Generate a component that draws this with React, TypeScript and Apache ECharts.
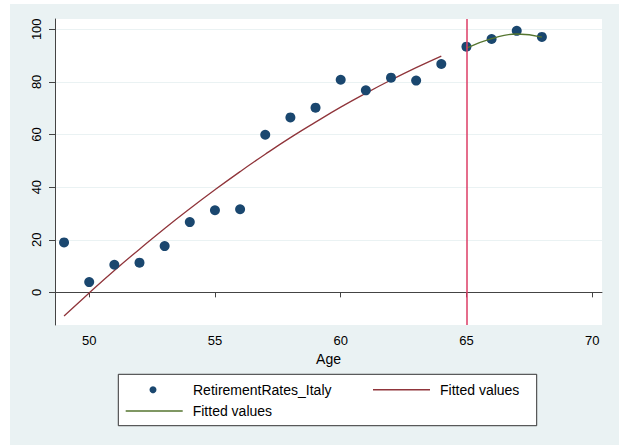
import React, { useEffect, useRef } from "react";
import * as echarts from "echarts";

const ages = [49, 50, 51, 52, 53, 54, 55, 56, 57, 58, 59, 60, 61, 62, 63, 64, 65, 66, 67, 68];
const rates = [19.0, 3.9, 10.5, 11.3, 17.6, 26.7, 31.2, 31.6, 59.9, 66.5, 70.2, 80.8, 76.8, 81.6, 80.5, 86.8, 93.4, 96.3, 99.4, 97.1];

const fit1Ages = [49, 50, 51, 52, 53, 54, 55, 56, 57, 58, 59, 60, 61, 62, 63, 64];
const fit1Values = [-9.0, -0.2, 8.3, 16.4, 24.3, 31.8, 39.0, 45.9, 52.5, 58.8, 64.7, 70.4, 75.7, 80.7, 85.4, 89.8];

const fit2Ages = [65, 66, 67, 68];
const fit2Values = [92.8, 96.4, 98.2, 97.0];

const xTicks = [50, 55, 60, 65, 70];
const yTicks = [0, 20, 40, 60, 80, 100];
const cutoffAge = 65;

const FONT = "'Liberation Sans', Arial, Helvetica, sans-serif";

export default function App() {
  const ref = useRef<HTMLDivElement>(null);

  useEffect(() => {
    if (!ref.current) return;
    const chart = echarts.init(ref.current, undefined, { renderer: "svg" });
    const pair = (xs: number[], ys: number[]) => xs.map((x, i) => [x, ys[i]]);

    const legendText = (pad: number) => ({
      fontFamily: FONT,
      fontSize: 14,
      color: "#000",
      lineHeight: 14,
      padding: [0, 0, 0, pad],
    });

    chart.setOption({
      animation: false,
      backgroundColor: "#eaf2f3",
      textStyle: { fontFamily: FONT },
      grid: {
        left: 45,
        top: 15,
        right: 17,
        bottom: 120,
        show: true,
        backgroundColor: "#ffffff",
        borderWidth: 0,
      },
      xAxis: {
        type: "value",
        min: 48.64,
        max: 70.39,
        name: "Age",
        nameLocation: "middle",
        nameGap: 27,
        nameTextStyle: { fontFamily: FONT, fontSize: 14, color: "#000" },
        axisLine: { show: true, lineStyle: { color: "#444", width: 1 } },
        axisTick: { show: true, length: 5, customValues: xTicks, lineStyle: { color: "#444" } },
        axisLabel: { customValues: xTicks, fontFamily: FONT, fontSize: 13, color: "#000", margin: 9 },
        splitLine: { show: false },
      },
      yAxis: {
        type: "value",
        min: -12.4,
        max: 103.9,
        axisLine: { show: true, lineStyle: { color: "#444", width: 1 } },
        axisTick: { show: true, length: 6, customValues: yTicks, lineStyle: { color: "#444" } },
        axisLabel: { customValues: yTicks, rotate: 90, fontFamily: FONT, fontSize: 13, color: "#000", margin: 12 },
        splitLine: { show: true, lineStyle: { color: "#eaf2f3", width: 1 } },
      },
      legend: [
        {
          data: [{ name: "RetirementRates_Italy", icon: "circle" }],
          left: 139.5,
          top: 378.7,
          padding: 0,
          itemWidth: 7,
          itemHeight: 7,
          itemStyle: { opacity: 1 },
          textStyle: legendText(31.5),
          selectedMode: false,
        },
        {
          data: [{ name: "Fitted values", icon: "rect" }],
          left: 363,
          top: 378.7,
          padding: 0,
          itemWidth: 57,
          itemHeight: 1.5,
          textStyle: legendText(5),
          selectedMode: false,
        },
        {
          data: [{ name: "Fitted values (65+)", icon: "rect" }],
          left: 115.7,
          top: 400,
          padding: 0,
          itemWidth: 57,
          itemHeight: 1.5,
          textStyle: legendText(5),
          formatter: () => "Fitted values",
          selectedMode: false,
        },
      ],
      graphic: [
        {
          type: "rect",
          shape: { x: 108.3, y: 370.3, width: 418.4, height: 51.4 },
          style: { fill: "#ffffff", stroke: "#333", lineWidth: 1 },
          z: 1,
          silent: true,
        },
      ],
      series: [
        {
          name: "Fitted values",
          type: "line",
          data: pair(fit1Ages, fit1Values),
          smooth: true,
          showSymbol: false,
          symbol: "none",
          color: "#90353b",
          lineStyle: { color: "#90353b", width: 1.3 },
          z: 2,
        },
        {
          name: "Fitted values (65+)",
          type: "line",
          data: pair(fit2Ages, fit2Values),
          smooth: true,
          showSymbol: false,
          symbol: "none",
          color: "#55752f",
          lineStyle: { color: "#55752f", width: 1.3 },
          z: 4,
        },
        {
          name: "RetirementRates_Italy",
          type: "scatter",
          data: pair(ages, rates),
          symbolSize: 10,
          color: "#1a476f",
          itemStyle: { color: "#1a476f", opacity: 1 },
          z: 3,
          markLine: {
            silent: true,
            symbol: ["none", "none"],
            label: { show: false },
            lineStyle: { color: "#dc3d66", width: 1.5, type: "solid" },
            data: [{ xAxis: cutoffAge }],
          },
        },
      ],
    });

    return () => chart.dispose();
  }, []);

  return (
    <div style={{ position: "fixed", left: 0, top: 0, width: 619, height: 445, background: "#ffffff" }}>
      <div ref={ref} style={{ position: "absolute", left: 10, top: 4, width: 609, height: 441 }} />
    </div>
  );
}
